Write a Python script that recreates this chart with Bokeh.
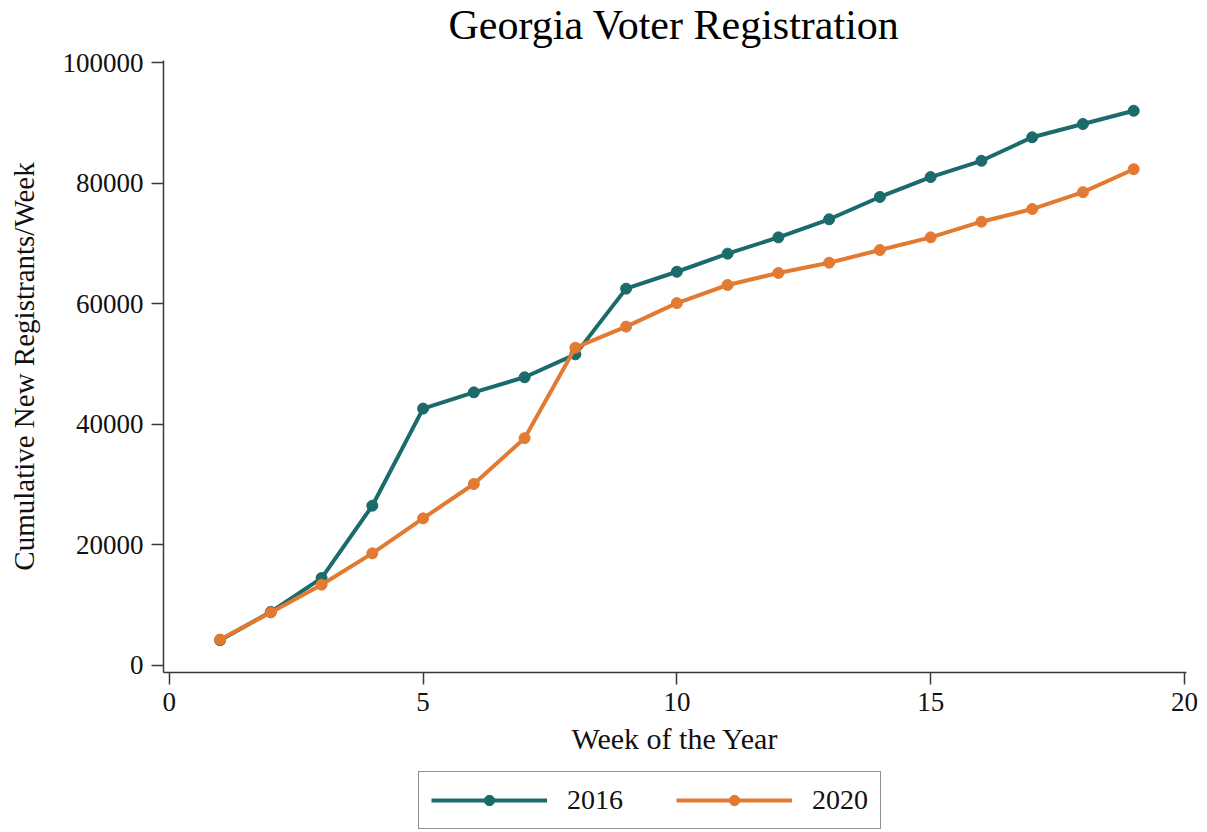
from bokeh.plotting import figure
from bokeh.models import Range1d, FixedTicker, NumeralTickFormatter, Legend, LegendItem, ColumnDataSource, Label
from bokeh.layouts import column
from bokeh.embed import file_html
from bokeh.resources import INLINE

weeks = [1, 2, 3, 4, 5, 6, 7, 8, 9, 10, 11, 12, 13, 14, 15, 16, 17, 18, 19]
reg_2016 = [4200, 8900, 14500, 26500, 42600, 45300, 47800, 51600, 62500, 65300,
            68300, 71000, 74000, 77700, 81000, 83700, 87600, 89800, 92000]
reg_2020 = [4300, 8800, 13400, 18600, 24400, 30100, 37700, 52700, 56200, 60100,
            63100, 65100, 66800, 68900, 71000, 73600, 75700, 78500, 82300]
series_names = ["2016", "2020"]
x_ticks = [0, 5, 10, 15, 20]
y_ticks = [0, 20000, 40000, 60000, 80000, 100000]
title_text = "Georgia Voter Registration"

FONT = "Liberation Serif"
TEAL = "#1b6a6c"
ORANGE = "#e27a32"
AXIS = "#3a3a3a"

# ---- title strip ----
tf = figure(width=1191, height=48, x_range=Range1d(0, 1), y_range=Range1d(0, 1),
            output_backend="svg", toolbar_location=None, min_border=0)
tf.axis.visible = False
tf.xgrid.grid_line_color = None
tf.ygrid.grid_line_color = None
tf.outline_line_color = None
tf.add_layout(Label(x=0.503, y=24, x_units="data", y_units="screen", text=title_text,
                    text_align="center", text_baseline="middle",
                    text_font=FONT, text_font_size="42px", text_color="#000000"))

# ---- main chart ----
p = figure(frame_width=1023, frame_height=612,
           x_range=Range1d(-0.114, 20.04), y_range=Range1d(-1161, 100332),
           output_backend="svg", toolbar_location=None,
           min_border_left=163, min_border_top=12, min_border_right=13, min_border_bottom=96)

p.outline_line_color = None
p.xgrid.grid_line_color = None
p.ygrid.grid_line_color = None

for ax in (p.xaxis[0], p.yaxis[0]):
    ax.axis_line_color = AXIS
    ax.axis_line_width = 1.5
    ax.major_tick_line_color = AXIS
    ax.major_tick_line_width = 1.5
    ax.major_tick_out = 12
    ax.major_tick_in = 0
    ax.minor_tick_line_color = None
    ax.major_label_text_font = FONT
    ax.major_label_text_font_size = "27px"
    ax.major_label_text_color = "#111111"
    ax.axis_label_text_font = FONT
    ax.axis_label_text_font_style = "normal"
    ax.axis_label_text_color = "#111111"
    ax.major_label_standoff = 8

p.xaxis.axis_label_text_font_size = "30px"
p.yaxis.axis_label_text_font_size = "29px"
p.xaxis.ticker = FixedTicker(ticks=x_ticks)
p.yaxis.ticker = FixedTicker(ticks=y_ticks)
p.yaxis.formatter = NumeralTickFormatter(format="0")
p.yaxis.major_label_orientation = "horizontal"
p.xaxis.axis_label = "Week of the Year"
p.yaxis.axis_label = "Cumulative New Registrants/Week"
p.xaxis.axis_label_standoff = 8
p.yaxis.axis_label_standoff = 20

src16 = ColumnDataSource(dict(x=weeks, y=reg_2016))
src20 = ColumnDataSource(dict(x=weeks, y=reg_2020))

p.line("x", "y", source=src16, line_color=TEAL, line_width=4)
p.scatter("x", "y", source=src16, size=11, fill_color=TEAL, line_color=TEAL)
p.line("x", "y", source=src20, line_color=ORANGE, line_width=4)
p.scatter("x", "y", source=src20, size=11, fill_color=ORANGE, line_color=ORANGE)

# ---- legend strip ----
lg = figure(width=1191, height=64, x_range=Range1d(-100, -99), y_range=Range1d(-100, -99),
            output_backend="svg", toolbar_location=None, min_border=0)
lg.axis.visible = False
lg.xgrid.grid_line_color = None
lg.ygrid.grid_line_color = None
lg.outline_line_color = None
ll16 = lg.line("x", "y", source=src16, line_color=TEAL, line_width=4)
ls16 = lg.scatter("x", "y", source=src16, size=11, fill_color=TEAL, line_color=TEAL)
ll20 = lg.line("x", "y", source=src20, line_color=ORANGE, line_width=4)
ls20 = lg.scatter("x", "y", source=src20, size=11, fill_color=ORANGE, line_color=ORANGE)

legend = Legend(items=[LegendItem(label=series_names[0], renderers=[ll16, ls16]),
                       LegendItem(label=series_names[1], renderers=[ll20, ls20])],
                orientation="horizontal", location=(255, 3))
legend.border_line_color = "#222222"
legend.border_line_width = 1.2
legend.background_fill_color = "white"
legend.background_fill_alpha = 1
legend.glyph_width = 116
legend.glyph_height = 26
legend.label_standoff = 20
legend.spacing = 53
legend.padding = 12
legend.margin = 0
legend.label_text_font = FONT
legend.label_text_font_size = "28px"
legend.label_text_line_height = 1.0
legend.label_text_color = "#111111"
legend.label_height = 26
lg.add_layout(legend, "center")

layout = column(tf, p, lg, spacing=0)
open("out.html", "w").write(file_html(layout, INLINE))
